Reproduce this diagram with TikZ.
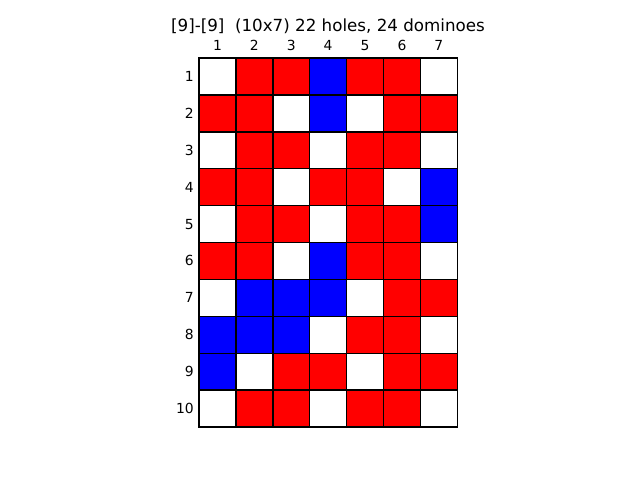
\documentclass[tikz,border=0pt]{standalone}
\usepackage{fontspec}
\setmainfont{DejaVu Sans}
\colorlet{H}{white}
\colorlet{R}{red}
\colorlet{B}{blue}
\tikzset{
  cell/.style={minimum size=36.9pt,inner sep=0pt,outer sep=0pt},
  cellborder/.style={draw=black,line width=1.4pt},
  ticklabel/.style={font=\fontsize{13.9}{16}\selectfont,inner sep=0pt},
  titlelabel/.style={font=\fontsize{16.7}{20}\selectfont,inner sep=0pt}
}

\begin{document}
\begin{tikzpicture}[x=1pt,y=-1pt]
  \useasboundingbox (0,0) rectangle (640,480);
  \def\side{36.9}
  \def\xo{199}
  \def\yo{58}
  % board, one row per line
  \foreach \row/\cols in {1/{H,R,R,B,R,R,H},
                          2/{R,R,H,B,H,R,R},
                          3/{H,R,R,H,R,R,H},
                          4/{R,R,H,R,R,H,B},
                          5/{H,R,R,H,R,R,B},
                          6/{R,R,H,B,R,R,H},
                          7/{H,B,B,B,H,R,R},
                          8/{B,B,B,H,R,R,H},
                          9/{B,H,R,R,H,R,R},
                          10/{H,R,R,H,R,R,H}} {
    \foreach \c [count=\col] in \cols
      \node[cell,fill=\c] (c-\row-\col) at ({\xo+(\col-0.5)*\side},{\yo+(\row-0.5)*\side}) {};
    \node[ticklabel,anchor=base east] (r\row) at (194,{\yo+(\row-0.5)*\side+5}) {\row};
  }
  % cell edges on top of the fills
  \foreach \row in {1,...,10}
    \foreach \col in {1,...,7}
      \draw[cellborder] (c-\row-\col.north west) rectangle (c-\row-\col.south east);
  \foreach \col in {1,...,7}
    \node[ticklabel,anchor=base] (k\col) at ({\xo+(\col-0.5)*\side},50) {\col};
  \node[titlelabel,anchor=base] (title) at (328,31) {[9]-[9]\ \ (10x7) 22 holes, 24 dominoes};
\end{tikzpicture}
\end{document}
